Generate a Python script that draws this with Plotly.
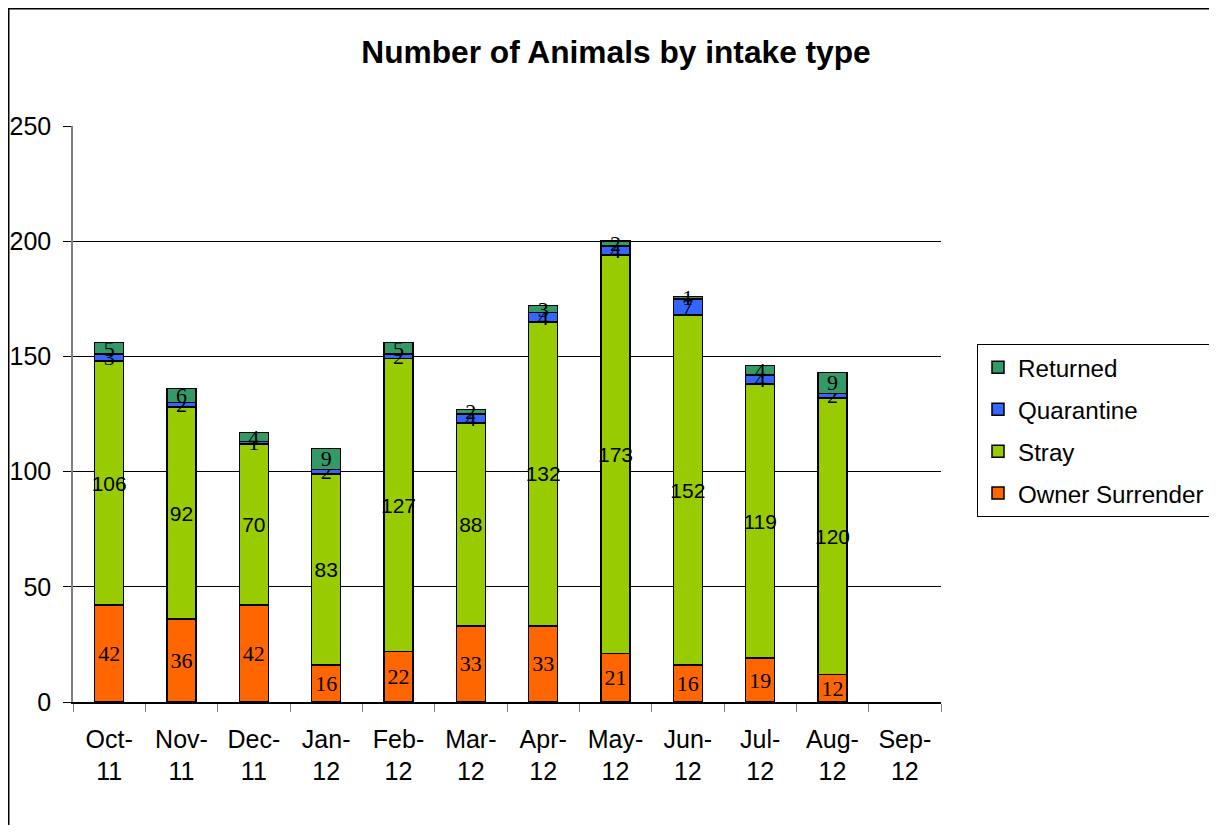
import plotly.graph_objects as go

months = ["Oct-<br>11", "Nov-<br>11", "Dec-<br>11", "Jan-<br>12", "Feb-<br>12", "Mar-<br>12",
          "Apr-<br>12", "May-<br>12", "Jun-<br>12", "Jul-<br>12", "Aug-<br>12", "Sep-<br>12"]
owner_surrender = [42, 36, 42, 16, 22, 33, 33, 21, 16, 19, 12, None]
stray = [106, 92, 70, 83, 127, 88, 132, 173, 152, 119, 120, None]
quarantine = [3, 2, 1, 2, 2, 4, 4, 4, 7, 4, 2, None]
returned = [5, 6, 4, 9, 5, 2, 3, 2, 1, 4, 9, None]

SERIF = "Liberation Serif, DejaVu Serif, serif"
SANS = "Liberation Sans, Arial, sans-serif"

# (name, values, colour, label font, label size, legend rank)
series = [
    ("Owner Surrender", owner_surrender, "#FF6600", SERIF, 22, 4),
    ("Stray", stray, "#99CC00", SANS, 21, 3),
    ("Quarantine", quarantine, "#3366FF", SERIF, 22, 2),
    ("Returned", returned, "#339966", SERIF, 22, 1),
]

# figure sized so the page (with its 8px body margin) exactly fills the window
W, H = 1201, 817
# plot area in figure pixels
L, R, T, B = 65, 933, 118, 694
PW, PH = R - L, B - T

fig = go.Figure()
for name, vals, color, tfont, tsize, rank in series:
    fig.add_trace(go.Bar(
        x=months, y=vals, name=name, legendgroup=name, legendrank=rank,
        marker=dict(color=color, line=dict(color="black", width=1.5)),
        text=[("" if v is None else str(v)) for v in vals],
        textposition="inside", insidetextanchor="middle", textangle=0,
        constraintext="none",
        textfont=dict(family=tfont, size=tsize, color="black"),
        cliponaxis=False,
    ))

fig.update_layout(
    barmode="stack",
    bargap=0.6,
    width=W, height=H,
    margin=dict(l=L, r=W - R, t=T, b=H - B, autoexpand=False),
    paper_bgcolor="white", plot_bgcolor="white",
    font=dict(family=SANS, size=25, color="black"),
    title=dict(text="<b>Number of Animals by intake type</b>", x=608 / W, xanchor="center",
               y=1 - 44 / H, yanchor="middle",
               font=dict(family=SANS, size=31.7, color="black")),
    legend=dict(traceorder="grouped", x=(969 - L) / PW, xanchor="left",
                y=(B - 336) / PH, yanchor="top",
                bordercolor="black", borderwidth=1, bgcolor="white",
                font=dict(family=SANS, size=24.2),
                tracegroupgap=7.5, itemwidth=30),
    showlegend=True,
)

fig.update_xaxes(type="category", showgrid=False, showline=True, linecolor="black", linewidth=1.5,
                 ticks="outside", tickson="boundaries", ticklen=8, tickcolor="#808080",
                 tickfont=dict(size=25), ticklabelstandoff=14)
fig.update_yaxes(range=[0, 250], tickvals=[0, 50, 100, 150, 200, 250], showgrid=True,
                 gridcolor="black", gridwidth=1, showline=True, linecolor="#808080", linewidth=1.5,
                 ticks="outside", ticklen=8, tickcolor="black", zeroline=False,
                 tickfont=dict(size=25), ticklabelstandoff=7)

# outer chart-area border (continues past the right and bottom edges, as in reference)
fig.add_shape(type="rect", xref="paper", yref="paper",
              x0=(0.75 - L) / PW, x1=(1240 - L) / PW,
              y0=(B - 860) / PH, y1=(B - 0.75) / PH,
              line=dict(color="black", width=1.5), fillcolor="rgba(0,0,0,0)", layer="below")

fig.write_html("out.html")
